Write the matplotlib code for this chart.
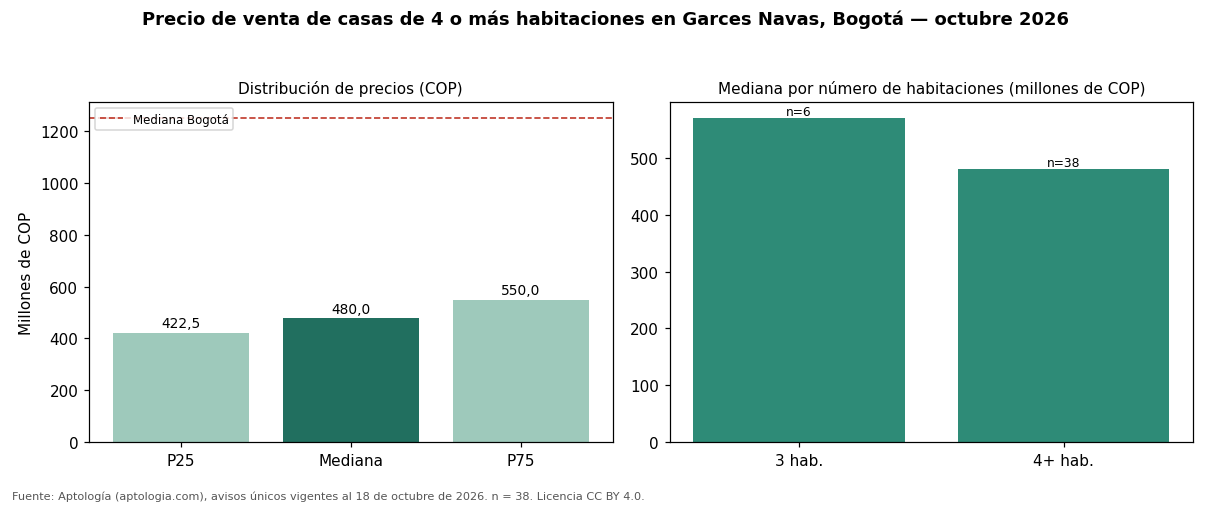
import matplotlib
matplotlib.use("Agg")
import matplotlib.pyplot as plt

# datos
estadisticos = ["P25", "Mediana", "P75"]
precios = [422.5, 480.0, 550.0]
mediana_bogota = 1250.0

habitaciones = ["3 hab.", "4+ hab."]
mediana_hab = [570.0, 480.0]
n_hab = [6, 38]

claro = "#9ec9bb"
oscuro = "#216f5f"
verde = "#2e8b77"

fig, (ax1, ax2) = plt.subplots(1, 2, figsize=(11, 4.6), dpi=110)
fig.subplots_adjust(left=0.0736, right=0.986, top=0.7964, bottom=0.1245, wspace=0.109)

# panel izquierdo
colores = [claro, oscuro, claro]
barras = ax1.bar(estadisticos, precios, color=colores, width=0.8)
for b, v in zip(barras, precios):
    ax1.text(b.get_x() + b.get_width() / 2, v + 8, f"{v:.1f}".replace(".", ","),
             ha="center", va="bottom", fontsize=9)
ax1.axhline(mediana_bogota, color="#c0392b", linestyle="--", linewidth=1.1, label="Mediana Bogotá")
ax1.set_ylim(0, mediana_bogota * 1.05)
ax1.set_ylabel("Millones de COP", fontsize=10)
ax1.set_title("Distribución de precios (COP)", fontsize=10)
ax1.legend(loc="upper left", fontsize=7.7)

# panel derecho
barras2 = ax2.bar(habitaciones, mediana_hab, color=verde, width=0.8)
for b, v, n in zip(barras2, mediana_hab, n_hab):
    ax2.text(b.get_x() + b.get_width() / 2, v + 1, f"n={n}",
             ha="center", va="bottom", fontsize=8)
ax2.set_title("Mediana por número de habitaciones (millones de COP)", fontsize=10)

fig.suptitle("Precio de venta de casas de 4 o más habitaciones en Garces Navas, Bogotá — octubre 2026",
             fontsize=11.8, fontweight="bold", y=0.98)
fig.text(0.01, 0.011, "Fuente: Aptología (aptologia.com), avisos únicos vigentes al 18 de octubre de 2026. n = 38. Licencia CC BY 4.0.",
         fontsize=7.4, color="#555555")

fig.savefig("out.png", dpi=110)
